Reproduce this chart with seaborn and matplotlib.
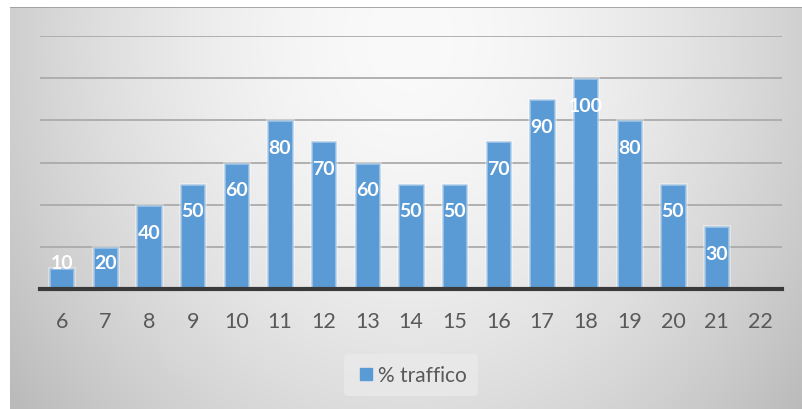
import numpy as np
import pandas as pd
import matplotlib
matplotlib.use("Agg")
import matplotlib.pyplot as plt
from matplotlib.lines import Line2D
import seaborn as sns

# Hourly traffic share
hours = ["6", "7", "8", "9", "10", "11", "12", "13", "14", "15", "16",
         "17", "18", "19", "20", "21", "22"]
traffic = [10, 20, 40, 50, 60, 80, 70, 60, 50, 50, 70, 90, 100, 80, 50, 30, 0]
series_name = "% traffico"

df = pd.DataFrame({"ora": hours, "traffico": traffic})

sns.set_theme(style="white")
plt.rcParams["font.family"] = ["Lato", "DejaVu Sans"]

W, H = 802, 410
fig = plt.figure(figsize=(W / 100, H / 100), dpi=100)
fig.patch.set_facecolor("white")

# Chart area background: soft radial grey gradient
bg = fig.add_axes([10 / W, 0, (W - 10) / W, (H - 8) / H], zorder=0)
gx = np.linspace(10, W, 400)
gy = np.linspace(8, H, 200)
X, Y = np.meshgrid(gx, gy)
u = (X - 410) / 395
v = (Y - 40) / 370 * 0.8
r = np.sqrt(u ** 2 + v ** 2)
shade = (250 - 42 * np.clip(r, 0, 1.3) ** 1.7) / 255
bg.imshow(np.dstack([shade, shade, shade]), aspect="auto",
          extent=(0, 1, 0, 1), origin="upper", interpolation="bicubic")
bg.axhline(1, color="#9a9a9a", lw=1.2)
bg.set_axis_off()

# Plot area
ax = fig.add_axes([40 / W, (H - 290) / H, (782 - 40) / W, (290 - 37) / H], zorder=1)
ax.set_facecolor("none")

bar_color = "#5B9BD5"
sns.barplot(data=df, x="ora", y="traffico", order=hours, color=bar_color,
            saturation=1, width=0.58, ax=ax,
            edgecolor=(1, 1, 1, 0.35), linewidth=2.2, zorder=3)

ax.set_xlim(-0.5, len(hours) - 0.5)
ax.set_ylim(0, 120)
ax.set_yticks(range(0, 121, 20))
ax.yaxis.grid(True, color="#ababab", lw=1.3, zorder=0)
ax.set_axisbelow(True)
ax.tick_params(axis="y", left=False, labelleft=False)
ax.tick_params(axis="x", bottom=False, labelsize=15.5, labelcolor="#595959", pad=10)
ax.set_xlabel("")
ax.set_ylabel("")
for side in ["top", "right", "left"]:
    ax.spines[side].set_visible(False)
ax.spines["bottom"].set_color("#3a3a3a")
ax.spines["bottom"].set_linewidth(3)
ax.spines["bottom"].set_zorder(5)

# Value labels near the top inside each bar
for i, val in enumerate(traffic):
    if val <= 0:
        continue
    ypos = max(val - 13, 12.5)
    ax.text(i, ypos, f"{val}", ha="center", va="center", color="white",
            fontsize=14, fontweight="bold", zorder=6)

# Legend
handle = Line2D([], [], marker="s", linestyle="none", markersize=9,
                markerfacecolor=bar_color, markeredgecolor=bar_color)
leg = fig.legend([handle], [series_name], loc="center",
                 bbox_to_anchor=(411 / W, 1 - 376 / H), frameon=True,
                 fontsize=15, handletextpad=0.1, borderpad=0.55,
                 handlelength=1.0)
leg.get_frame().set_facecolor("#ebebeb")
leg.get_frame().set_edgecolor("none")
leg.get_frame().set_alpha(0.7)
for t in leg.get_texts():
    t.set_color("#595959")

fig.savefig("out.png", dpi=100)
